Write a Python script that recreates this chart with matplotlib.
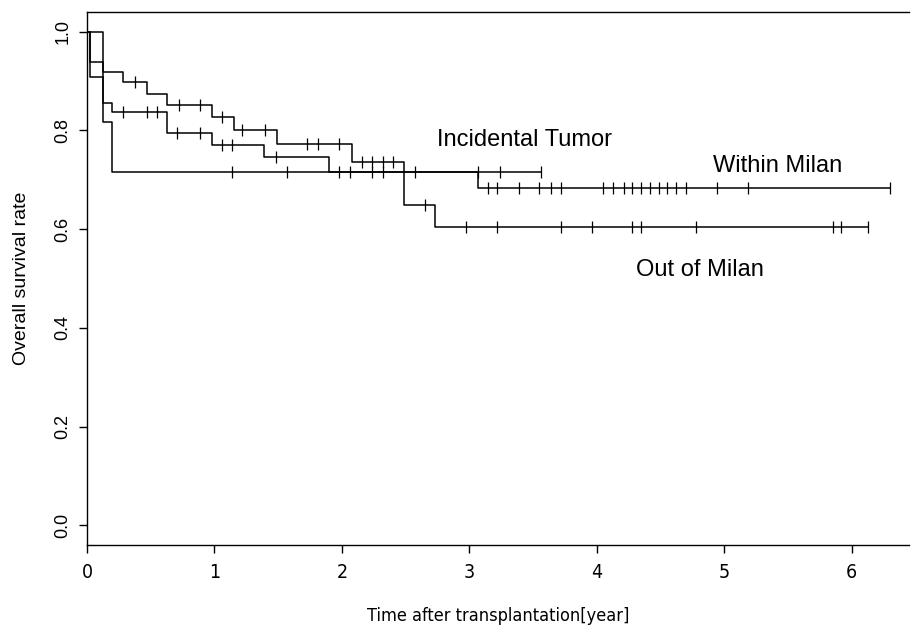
import numpy as np
import matplotlib
matplotlib.use("Agg")
import matplotlib.pyplot as plt

# Kaplan-Meier steps (time in years, survival rate)
incid_t = [0, 0.02, 0.125, 0.2]
incid_s = [1.0, 0.909, 0.818, 0.716]
incid_end = 3.56
incid_cens = [1.14, 1.57, 2.57, 3.07, 3.24, 3.56]

within_t = [0, 0.02, 0.125, 0.2, 0.63, 0.98, 1.39, 1.90, 3.07]
within_s = [1.0, 0.939, 0.856, 0.837, 0.795, 0.771, 0.746, 0.716, 0.683]
within_end = 6.30
within_cens = [0.28, 0.47, 0.55, 0.71, 0.89, 1.06, 1.14, 1.48, 1.98, 2.06,
               2.24, 2.32, 3.15, 3.22, 3.39, 3.55, 3.64, 3.72, 4.05, 4.13,
               4.21, 4.28, 4.35, 4.42, 4.49, 4.55, 4.62, 4.70, 4.94, 5.19, 6.30]

out_t = [0, 0.125, 0.28, 0.47, 0.63, 0.98, 1.15, 1.49, 2.08, 2.49, 2.73]
out_s = [1.0, 0.919, 0.899, 0.874, 0.852, 0.828, 0.801, 0.773, 0.736, 0.649, 0.604]
out_end = 6.13
out_cens = [0.38, 0.72, 0.89, 1.06, 1.22, 1.40, 1.73, 1.81, 1.98, 2.16,
            2.24, 2.32, 2.40, 2.65, 2.97, 3.22, 3.72, 3.96, 4.28, 4.35,
            4.78, 5.85, 5.92, 6.13]

x_ticks = [0, 1, 2, 3, 4, 5, 6]
y_ticks = [0.0, 0.2, 0.4, 0.6, 0.8, 1.0]

group_names = ["Incidental Tumor", "Within Milan", "Out of Milan"]
label_pos = [(2.75, 0.78), (4.91, 0.728), (4.31, 0.517)]

plt.rcParams["font.family"] = ["Liberation Sans", "DejaVu Sans"]

fig = plt.figure(figsize=(9.14, 6.32), dpi=100)
ax = fig.add_axes([87 / 914, 87 / 632, 822 / 914, 533 / 632])


def km_curve(times, surv, end, cens):
    tt = list(times) + [end]
    ss = list(surv) + [surv[-1]]
    ax.step(tt, ss, where="post", color="black", lw=1.1)
    # survival at each censoring time from the step function
    idx = np.searchsorted(times, cens, side="right") - 1
    cs = np.array(surv)[idx]
    ax.plot(cens, cs, ls="none", marker="|", ms=8, mew=0.9, color="black")


km_curve(incid_t, incid_s, incid_end, incid_cens)
km_curve(within_t, within_s, within_end, within_cens)
km_curve(out_t, out_s, out_end, out_cens)

for name, (tx, ty) in zip(group_names, label_pos):
    ax.text(tx, ty, name, fontsize=17, ha="left", va="center")

ax.set_xlim(0, 6.45)
ax.set_ylim(-0.04, 1.04)
ax.set_xticks(x_ticks)
ax.set_xticklabels([str(v) for v in x_ticks], family="DejaVu Sans",
                   stretch="condensed", fontsize=14)
ax.set_yticks(y_ticks)
ax.set_yticklabels(["%.1f" % v for v in y_ticks], fontsize=13,
                   rotation=90, va="center")
ax.tick_params(axis="both", direction="out", length=6, width=1.0, color="black")
ax.tick_params(axis="y", pad=5)
ax.tick_params(axis="x", pad=7)
ax.spines["right"].set_visible(False)
for s in ["left", "bottom", "top"]:
    ax.spines[s].set_linewidth(1.0)

ax.set_xlabel("Time after transplantation[year]", family="DejaVu Sans",
              stretch="condensed", fontsize=13, labelpad=18)
ax.set_ylabel("Overall survival rate", fontsize=14, labelpad=18)

fig.savefig("out.png", dpi=100)
